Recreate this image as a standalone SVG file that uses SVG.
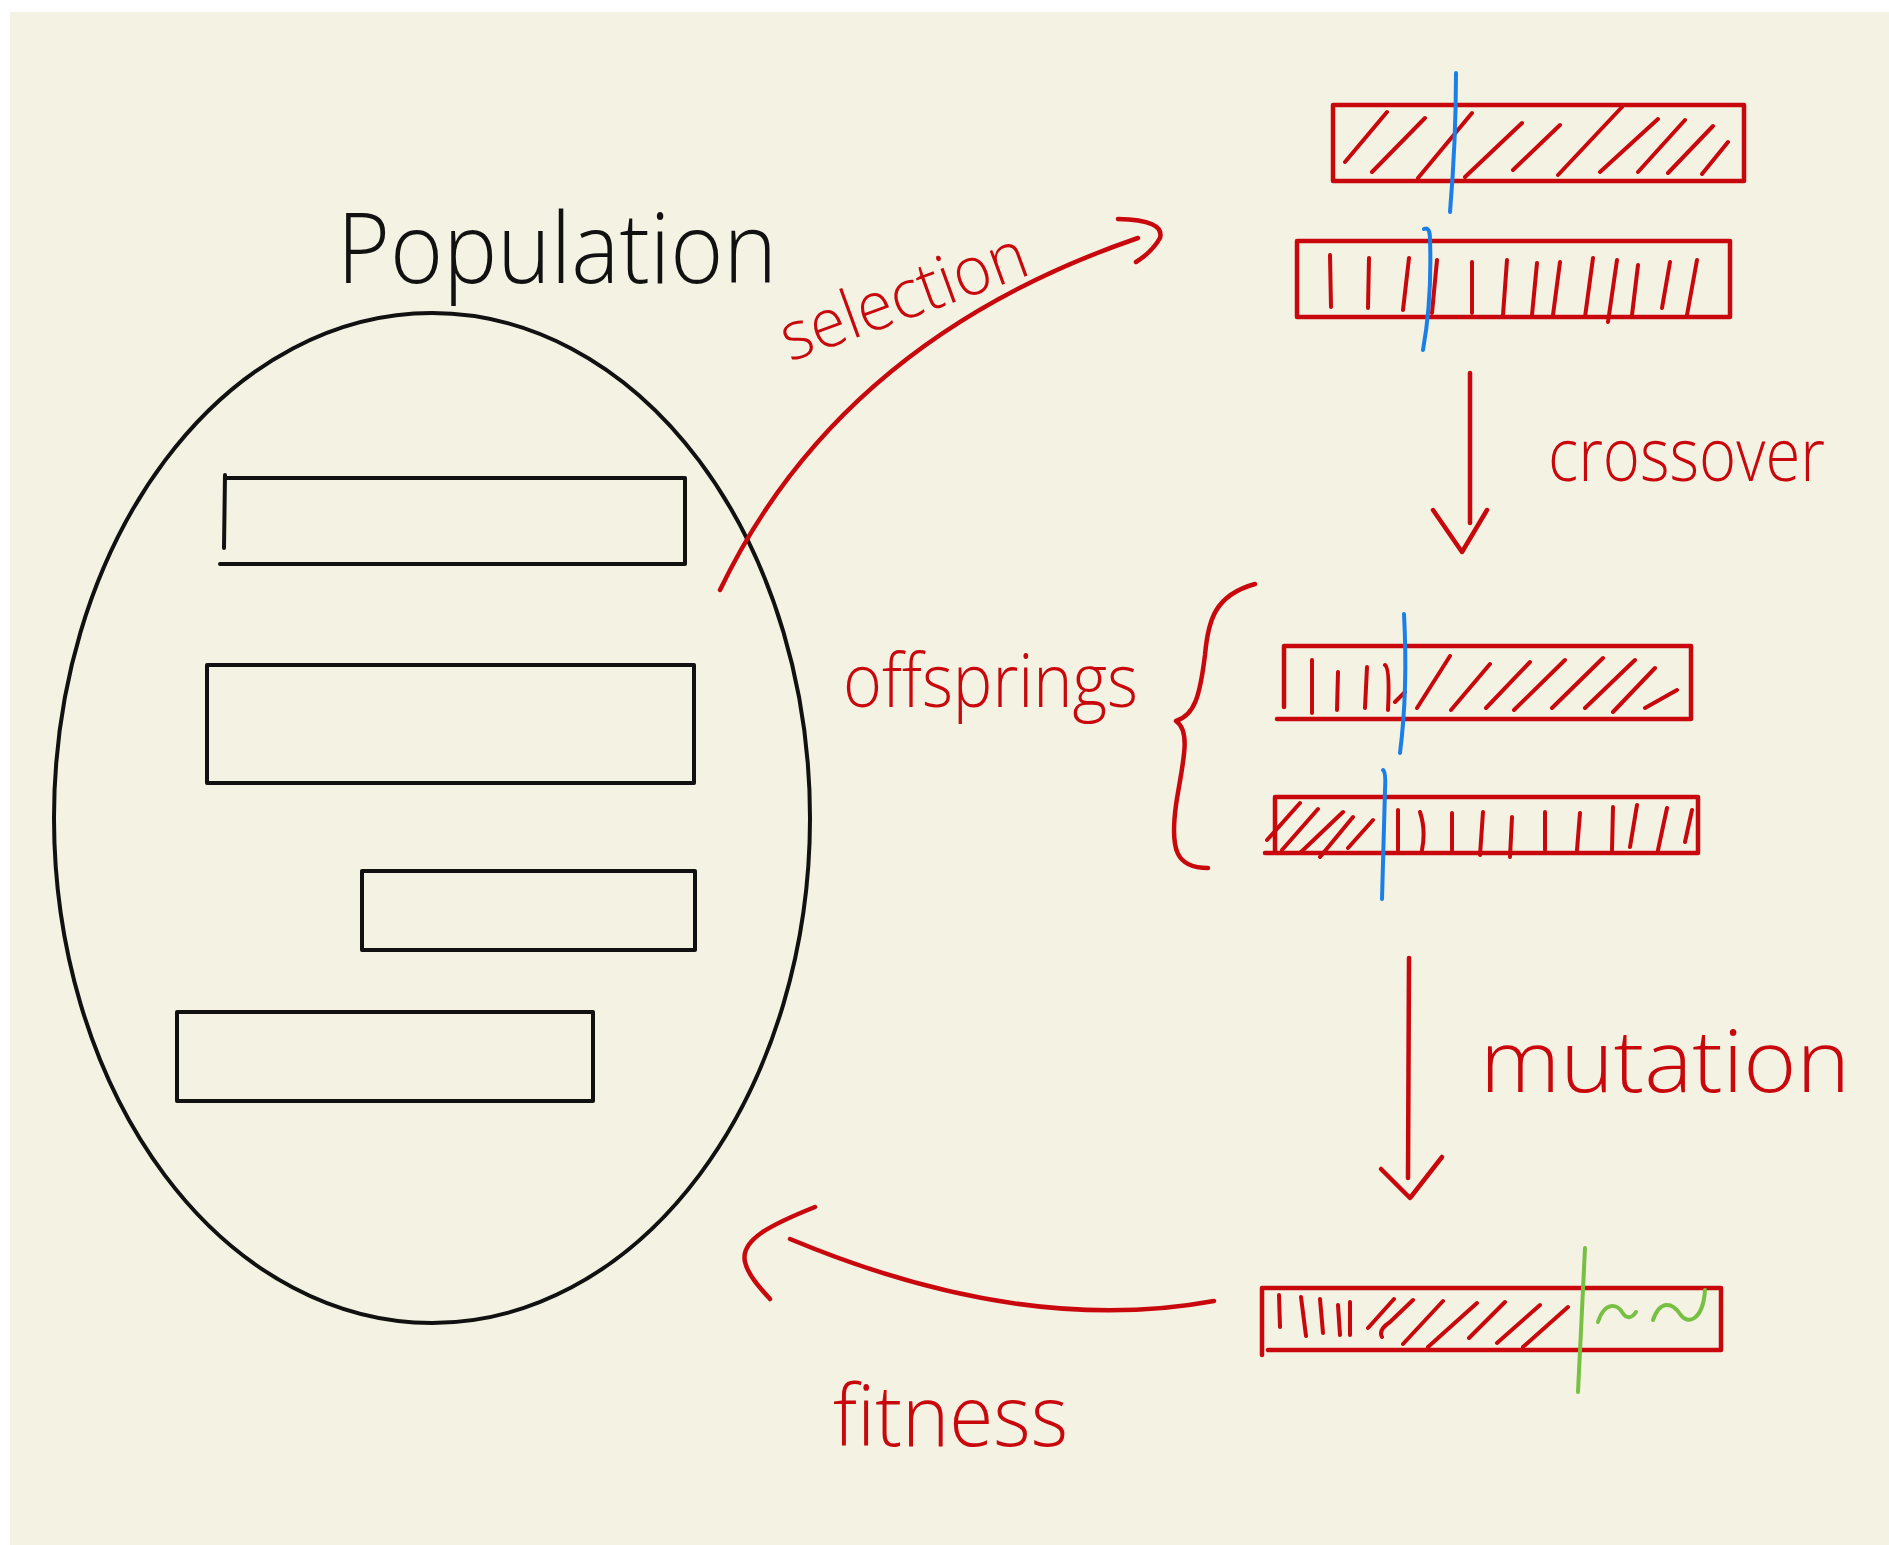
<svg xmlns="http://www.w3.org/2000/svg" width="1889" height="1545" viewBox="0 0 1889 1545">
  <style>
    .ink { fill: none; stroke: #111111; stroke-width: 4; stroke-linecap: round; stroke-linejoin: round; }
    .red { fill: none; stroke: #c8080c; stroke-width: 4.5; stroke-linecap: round; stroke-linejoin: round; }
    .hatch { fill: none; stroke: #c8080c; stroke-width: 4; stroke-linecap: round; stroke-linejoin: round; }
    .cut { fill: none; stroke: #1a7fe8; stroke-width: 4; stroke-linecap: round; }
    .mut { fill: none; stroke: #78c043; stroke-width: 4; stroke-linecap: round; stroke-linejoin: round; }
    .hand { font-family: "Open Sans", "Liberation Sans", sans-serif; font-weight: 300; }
    .lbl-black { fill: #111111; }
    .lbl-red { fill: #c8080c; }
  </style>

  <!-- page -->
  <rect x="0" y="0" width="1889" height="1545" fill="#ffffff"/>
  <rect x="10" y="12" width="1879" height="1533" fill="#f3f2e3"/>

  <!-- population -->
  <g id="population">
    <ellipse class="ink" cx="432" cy="818" rx="378" ry="505" stroke-width="3.5"/>
    <path class="ink" d="M227,478 L685,478 L685,564 L220,564 M225,475 L224,548"/>
    <rect class="ink" x="207" y="665" width="487" height="118"/>
    <rect class="ink" x="362" y="871" width="333" height="79"/>
    <rect class="ink" x="177" y="1012" width="416" height="89"/>
    <text class="hand lbl-black" x="337" y="283" font-size="98" textLength="440" lengthAdjust="spacingAndGlyphs">Population</text>
  </g>

  <!-- parent 1: slanted genes, cut point -->
  <g id="parent-a">
    <rect class="red" x="1333" y="105" width="411" height="76"/>
    <path class="hatch" d="M1345,162 L1387,112 M1372,172 L1425,118 M1418,178 L1472,113 M1465,177 L1522,123 M1513,170 L1560,125 M1558,175 L1622,107 M1600,172 L1658,119 M1638,172 L1685,120 M1668,173 L1713,126 M1702,174 L1728,142"/>
    <path class="cut" d="M1456,73 Q1456,140 1450,212"/>
  </g>

  <!-- parent 2: upright genes, cut point -->
  <g id="parent-b">
    <rect class="red" x="1297" y="241" width="433" height="76"/>
    <path class="hatch" d="M1330,255 L1331,307 M1369,258 L1368,308 M1409,258 L1403,310 M1437,260 L1432,313 M1472,262 L1472,313 M1507,260 L1503,315 M1537,263 L1532,315 M1560,262 L1553,315 M1593,258 L1585,317 M1617,260 L1608,322 M1638,265 L1632,315 M1670,262 L1662,308 M1697,260 L1687,315"/>
    <path class="cut" d="M1424,229 Q1430,226 1430,240 Q1432,300 1423,350"/>
  </g>

  <!-- offspring 1: upright head, slanted tail -->
  <g id="offspring-a">
    <path class="red" d="M1284,707 L1284,646 L1691,646 L1691,719 L1277,719"/>
    <path class="hatch" d="M1312,660 L1312,713 M1338,672 L1337,710 M1367,667 L1365,708 M1385,665 Q1390,668 1388,710 M1395,702 L1405,692 M1417,708 L1450,656 M1451,710 L1490,664 M1486,708 L1530,662 M1514,710 L1565,660 M1552,708 L1603,658 M1585,708 L1635,660 M1613,712 L1655,668 M1645,708 L1677,690"/>
    <path class="cut" d="M1404,614 Q1408,690 1400,753"/>
  </g>

  <!-- offspring 2: slanted head, upright tail -->
  <g id="offspring-b">
    <path class="red" d="M1275,853 L1275,797 L1698,797 L1698,853 L1265,853"/>
    <path class="hatch" d="M1267,840 L1300,803 M1282,850 L1318,809 M1300,853 L1343,812 M1320,857 L1353,817 M1348,848 L1373,820 M1398,810 L1398,850 M1420,812 Q1426,830 1422,850 M1452,813 L1452,850 M1483,812 L1480,855 M1512,817 L1510,857 M1545,812 L1545,850 M1580,813 L1577,850 M1613,807 L1612,850 M1637,805 L1630,847 M1667,808 L1658,850 M1692,810 L1685,842"/>
    <path class="cut" d="M1383,770 Q1386,772 1385,790 L1382,899"/>
  </g>

  <!-- mutated child: altered tail marked green -->
  <g id="mutant">
    <path class="red" d="M1262,1355 L1262,1288 L1721,1288 L1721,1350 L1268,1350"/>
    <path class="hatch" d="M1279,1295 L1280,1327 M1301,1297 L1306,1336 M1320,1299 L1323,1333 M1338,1305 L1340,1335 M1350,1302 L1350,1335 M1368,1328 L1394,1299 M1382,1337 Q1378,1330 1390,1322 L1413,1300 M1403,1344 L1443,1301 M1428,1347 L1477,1303 M1469,1338 L1505,1302 M1497,1343 L1540,1305 M1523,1347 L1568,1307"/>
    <path class="mut" d="M1585,1248 L1578,1392"/>
    <path class="mut" d="M1598,1322 C1605,1300 1618,1305 1622,1312 C1627,1320 1632,1318 1636,1312"/>
    <path class="mut" d="M1653,1320 C1660,1300 1672,1302 1680,1314 C1688,1326 1703,1320 1705,1290"/>
  </g>

  <!-- offspring grouping brace -->
  <g id="offspring-brace">
    <path class="red" d="M1255,584 C1215,595 1208,620 1205,655 C1200,695 1195,715 1176,721 C1192,732 1182,765 1176,805 C1170,850 1176,868 1208,868"/>
    <text class="hand lbl-red" x="843" y="707" font-size="74" textLength="295" lengthAdjust="spacingAndGlyphs">offsprings</text>
  </g>

  <!-- connectors -->
  <g id="connectors">
    <g id="selection">
      <path class="red" d="M720,590 Q840,340 1138,238"/>
      <path class="red" d="M1118,219 Q1165,220 1160,238 Q1152,252 1136,262"/>
      <text class="hand lbl-red" x="0" y="0" font-size="68" textLength="258" lengthAdjust="spacingAndGlyphs" transform="translate(790,362) rotate(-20)">selection</text>
    </g>
    <g id="crossover">
      <path class="red" d="M1470,373 L1470,523"/>
      <path class="red" d="M1433,510 L1462,552 L1487,510"/>
      <text class="hand lbl-red" x="1548" y="481" font-size="74" textLength="277" lengthAdjust="spacingAndGlyphs">crossover</text>
    </g>
    <g id="mutation">
      <path class="red" d="M1409,958 L1408,1178"/>
      <path class="red" d="M1381,1169 L1410,1198 L1442,1157"/>
      <text class="hand lbl-red" x="1480" y="1092" font-size="87" textLength="370" lengthAdjust="spacingAndGlyphs">mutation</text>
    </g>
    <g id="fitness">
      <path class="red" d="M1214,1301 C1100,1322 960,1310 790,1239"/>
      <path class="red" d="M815,1207 C770,1225 740,1240 745,1262 C748,1275 760,1288 770,1299"/>
      <text class="hand lbl-red" x="833" y="1446" font-size="85" textLength="235" lengthAdjust="spacingAndGlyphs">fitness</text>
    </g>
  </g>
</svg>
